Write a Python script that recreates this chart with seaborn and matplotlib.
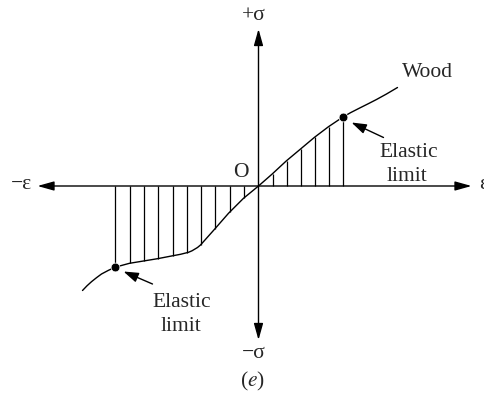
import numpy as np
import seaborn as sns
import matplotlib.pyplot as plt

# stress-strain curve for wood (units: strain / stress, origin at O)
strain = [-176, -171.5, -167, -162, -157, -150, -143.5, -136, -129, -115, -101, -87, -78, -70,
          -66.5, -63.5, -61, -58, -44, -30, -15, 0,
          13.7, 27.7, 41.7, 56, 70, 84, 92, 101, 110, 118, 128, 139]
stress = [-104.5, -99.8, -95.7, -91.7, -88, -84.3, -81.3, -79.2, -77.3, -75, -72.7, -70, -68.3, -66.3,
          -64.8, -63, -61.5, -59, -43.3, -27.3, -12.3, 0,
          12, 25, 36.7, 48.7, 59.3, 68.7, 73.3, 77.9, 82.4, 86.5, 92, 98.5]
elastic_strain = [-143.5, 84]
elastic_stress = [-81.3, 68.7]
hatch_x = [-143.5, -129, -115, -100.5, -86, -72, -58, -43.3, -29, -15,
           14, 28, 42, 56, 70, 84]

sns.set_style('white')
plt.rcParams['font.family'] = ['Liberation Serif', 'DejaVu Serif']
plt.rcParams['mathtext.fontset'] = 'stix'

fig = plt.figure(figsize=(4.84, 3.94), dpi=100)
ax = fig.add_axes([0, 0, 1, 1])
ax.set_xlim(-258.5, 225.5)
ax.set_ylim(-208, 186)
ax.axis('off')

# axes with arrows
ax_arrow = dict(arrowstyle='<|-|>,head_length=1.0,head_width=0.28', mutation_scale=10,
                lw=1.0, color='black', shrinkA=0, shrinkB=0)
ax.annotate('', xy=(213, 0), xytext=(-221, 0), arrowprops=ax_arrow)
ax.annotate('', xy=(0, 157), xytext=(0, -154), arrowprops=ax_arrow)

# curve
sns.lineplot(x=strain, y=stress, color='black', lw=1.0, ax=ax, sort=True, estimator=None)

# hatching between curve and strain axis
tops = np.interp(hatch_x, strain, stress)
ax.vlines(hatch_x, 0, tops, color='black', lw=0.9)

# elastic limits
sns.scatterplot(x=elastic_strain, y=elastic_stress, color='black', s=40, ax=ax, zorder=5)

small = dict(arrowstyle='-|>,head_length=0.9,head_width=0.3', mutation_scale=10,
             lw=1.0, color='black', shrinkA=0, shrinkB=0)
ax.annotate('', xy=(93, 63.5), xytext=(125, 48.5), arrowprops=small)
ax.annotate('', xy=(-135, -85.5), xytext=(-106, -98), arrowprops=small)

fs = 15.5
ax.text(-4.5, 171, '+σ', ha='center', va='center', fontsize=fs)
ax.text(-4.5, -168, '−σ', ha='center', va='center', fontsize=fs)
ax.text(-6, -195, r'($\mathit{e}$)', ha='center', va='center', fontsize=fs)
ax.text(-237.5, 2, '−ε', ha='center', va='center', fontsize=fs)
# the reference cuts this label at the right edge
ax.text(220.5, 2, 'ε', ha='left', va='center', fontsize=fs)
ax.text(-18, 14, 'O', ha='center', va='center', fontsize=fs)
ax.text(169, 114, 'Wood', ha='center', va='center', fontsize=fs)
ax.text(150, 34, 'Elastic', ha='center', va='center', fontsize=fs)
ax.text(148.5, 10, 'limit', ha='center', va='center', fontsize=fs)
ax.text(-77, -116.7, 'Elastic', ha='center', va='center', fontsize=fs)
ax.text(-77.5, -140.7, 'limit', ha='center', va='center', fontsize=fs)

fig.savefig('out.png', dpi=100)
